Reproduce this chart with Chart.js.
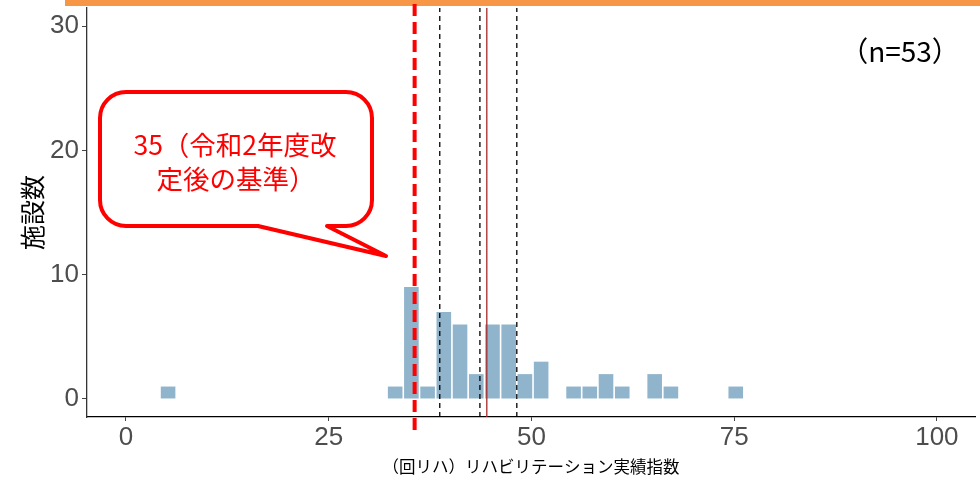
<!DOCTYPE html>
<html>
<head>
<meta charset="utf-8">
<script src="https://cdn.jsdelivr.net/npm/chart.js@4"></script>
<style>
  html, body { margin: 0; padding: 0; background: #fff; }
  #wrap { width: 980px; height: 477px; position: relative; }
</style>
</head>
<body>
<div id="wrap"><canvas id="hist" width="980" height="477"></canvas></div>
<script>
// histogram bins (bin centre) and facility counts, n=53
const binCenters = [5.2, 33.2, 35.2, 37.2, 39.2, 41.2, 43.2, 45.2, 47.2, 49.2, 51.2, 55.2, 57.2, 59.2, 61.2, 65.2, 67.2, 75.2];
const counts     = [1,   1,    9,    1,    7,    6,    2,    6,    6,    2,    3,    1,    1,    2,    1,    2,    1,    1];
const xTicks = [0, 25, 50, 75, 100];
const yTicks = [0, 10, 20, 30];
const quartiles = [38.7, 43.65, 48.2];  // dashed black lines
const meanValue = 44.5;                 // thin dark red line
const standard = 35.6;                  // red dashed line (35 criterion)
const yMin = -1.45, yMax = 31.45;

const tickFont = { family: '"Liberation Sans", Arial', size: 26 };

const vline = (x, color, width, dash) => ({
  type: 'line',
  data: [{ x: x, y: yMin }, { x: x, y: yMax }],
  borderColor: color,
  borderWidth: width,
  borderDash: dash,
  pointRadius: 0,
  order: 0
});

const overlay = {
  id: 'overlay',
  afterDraw(chart) {
    const c = chart.ctx;
    const xs = chart.scales.x;
    c.save();
    // orange band at top
    c.fillStyle = '#f79646';
    c.fillRect(65, 0, 915, 6);

    // red dashed criterion line
    const px = xs.getPixelForValue(standard);
    c.strokeStyle = '#ff0000';
    c.lineWidth = 4;
    c.setLineDash([12, 6]);
    c.beginPath();
    c.moveTo(px, 4);
    c.lineTo(px, 432);
    c.stroke();
    c.setLineDash([]);

    // speech bubble
    const L = 100, T = 92, R = 372, B = 226, r = 26;
    c.beginPath();
    c.moveTo(L + r, T);
    c.lineTo(R - r, T);
    c.arcTo(R, T, R, T + r, r);
    c.lineTo(R, B - r);
    c.arcTo(R, B, R - r, B, r);
    c.lineTo(327, B);
    c.lineTo(386, 256);
    c.lineTo(258, B);
    c.lineTo(L + r, B);
    c.arcTo(L, B, L, B - r, r);
    c.lineTo(L, T + r);
    c.arcTo(L, T, L + r, T, r);
    c.closePath();
    c.fillStyle = '#fff';
    c.fill();
    c.strokeStyle = '#ff0000';
    c.lineWidth = 4;
    c.lineJoin = 'round';
    c.stroke();

    c.fillStyle = '#ff0000';
    c.font = '26.5px "Noto Sans CJK JP"';
    c.textAlign = 'center';
    c.textBaseline = 'middle';
    c.fillText('35（令和2年度改', 235, 145);
    c.fillText('定後の基準）', 236, 179);

    c.fillStyle = '#000';
    c.font = '28px "Noto Sans CJK JP"';
    c.fillText('（n=53）', 900, 51);
    c.restore();
  }
};

new Chart(document.getElementById('hist'), {
  type: 'bar',
  data: {
    datasets: [
      {
        type: 'bar',
        data: binCenters.map((x, i) => ({ x: x, y: counts[i] })),
        backgroundColor: '#8fb4cb',
        borderWidth: 0,
        barPercentage: 0.9,
        categoryPercentage: 1,
        order: 1
      },
      ...quartiles.map(q => vline(q, '#000000', 1.3, [5, 4])),
      vline(meanValue, '#a52a2a', 1.3, [])
    ]
  },
  plugins: [overlay],
  options: {
    responsive: false,
    animation: false,
    devicePixelRatio: 1,
    layout: { padding: { top: 8, right: 5, left: 0, bottom: 0 } },
    plugins: { legend: { display: false }, tooltip: { enabled: false } },
    scales: {
      x: {
        type: 'linear',
        offset: false,
        min: -4.8,
        max: 104.7,
        afterBuildTicks: s => { s.ticks = xTicks.map(v => ({ value: v })); },
        afterFit: s => { s.height = 60; s.paddingLeft = 0; s.paddingRight = 0; },
        grid: { offset: false, drawOnChartArea: false, tickLength: 4, color: '#444', tickColor: '#444' },
        border: { color: '#000', width: 1.3 },
        ticks: { color: '#4d4d4d', padding: 1, font: tickFont },
        title: {
          display: true,
          text: '（回リハ）リハビリテーション実績指数',
          color: '#000',
          font: { family: 'Noto Sans CJK JP', size: 16.5 },
          padding: { top: 0, bottom: 0 }
        }
      },
      y: {
        min: yMin,
        max: yMax,
        afterBuildTicks: s => { s.ticks = yTicks.map(v => ({ value: v })); },
        afterFit: s => { s.width = 87; s.paddingTop = 0; s.paddingBottom = 0; },
        grid: { drawOnChartArea: false, tickLength: 5, color: '#444', tickColor: '#444' },
        border: { color: '#333', width: 1.3 },
        ticks: { color: '#4d4d4d', padding: 3, font: tickFont },
        title: {
          display: true,
          text: '施設数',
          color: '#000',
          font: { family: 'Noto Sans CJK JP', size: 25 },
          padding: { top: 17, bottom: 0 }
        }
      }
    }
  }
});
</script>
</body>
</html>
